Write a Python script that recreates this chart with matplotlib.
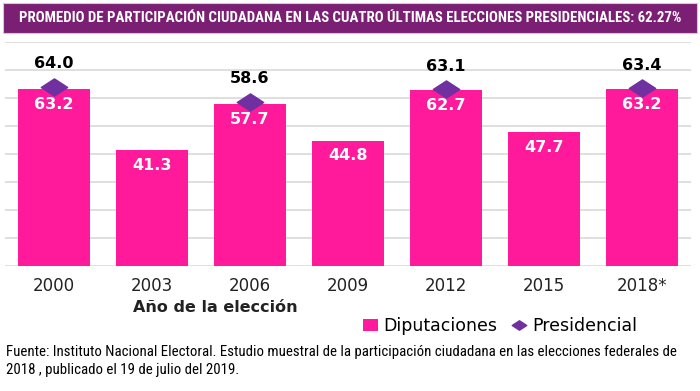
import matplotlib
matplotlib.use("Agg")
import matplotlib.pyplot as plt
from matplotlib.patches import Rectangle
from matplotlib.path import Path
import numpy as np

years = ["2000", "2003", "2006", "2009", "2012", "2015", "2018*"]
diputaciones = [63.2, 41.3, 57.7, 44.8, 62.7, 47.7, 63.2]
presidencial_idx = [0, 2, 4, 6]
presidencial = [64.0, 58.6, 63.1, 63.4]

title = "PROMEDIO DE PARTICIPACIÓN CIUDADANA EN LAS CUATRO ÚLTIMAS ELECCIONES PRESIDENCIALES: 62.27%"
xlabel = "Año de la elección"
source = ("Fuente: Instituto Nacional Electoral. Estudio muestral de la participación ciudadana en las elecciones federales de\n"
          "2018 , publicado el 19 de julio del 2019.")

PINK = "#FF1A9B"
PURPLE = "#7030A0"
NARROW = ["Roboto Condensed", "Arial Narrow", "Liberation Sans Narrow", "DejaVu Sans"]
SANS = ["DejaVu Sans"]

diamond = Path([(-1, 0), (0, 0.65), (1, 0), (0, -0.65), (-1, 0)],
               [Path.MOVETO, Path.LINETO, Path.LINETO, Path.LINETO, Path.CLOSEPOLY])

fig = plt.figure(figsize=(7, 3.91), dpi=100)
fig.patch.set_facecolor("white")

# title band
fig.patches.append(Rectangle((3 / 700, 1 - 33 / 391), 694 / 700, 30 / 391,
                             transform=fig.transFigure, facecolor="#7A1F73",
                             edgecolor="#cccccc", linewidth=0.8, zorder=0))
fig.text(0.5, 1 - 18 / 391, title, ha="center", va="center", color="white",
         fontsize=10.7, fontweight="bold", family=NARROW, fontstretch="condensed")

ax = fig.add_axes([5 / 700, 1 - 266 / 391, 686 / 700, 224 / 391])
x = np.arange(len(years))
bars = ax.bar(x, diputaciones, width=0.73, color=PINK, zorder=2, label="Diputaciones")
px = [x[i] for i in presidencial_idx]
line, = ax.plot(px, presidencial, linestyle="none", marker=diamond, markersize=19,
                color=PURPLE, zorder=3, label="Presidencial")

for xi, v in zip(x, diputaciones):
    ax.annotate(f"{v:.1f}", (xi, v), xytext=(0, -15), textcoords="offset pixels",
                ha="center", va="center", color="white", fontsize=11.5,
                fontweight="bold", family=SANS, zorder=4)
for xi, v in zip(px, presidencial):
    ax.annotate(f"{v:.1f}", (xi, v), xytext=(0, 23), textcoords="offset pixels",
                ha="center", va="center", color="black", fontsize=11.5,
                fontweight="bold", family=SANS, zorder=4)

ax.set_xlim(-0.5, len(years) - 0.5)
ax.set_ylim(0, 80)
ax.set_yticks(np.arange(0, 81, 10))
ax.yaxis.grid(True, color="#d9d9d9", linewidth=1.2, zorder=0)
ax.set_yticklabels([])
ax.tick_params(axis="y", length=0)
ax.tick_params(axis="x", length=0, pad=8, labelsize=12, labelcolor="#222222")
ax.set_xticks(x)
ax.set_xticklabels(years, family=SANS)
for s in ax.spines.values():
    s.set_visible(False)

fig.text(215 / 700, 1 - 307 / 391, xlabel, ha="center", va="center",
         fontsize=11.5, fontweight="bold", family=SANS, color="#222222")

leg = fig.legend([bars, line], ["Diputaciones", "Presidencial"], loc="center",
                 bbox_to_anchor=(500 / 700, 1 - 326 / 391),
                 ncol=2, frameon=False, prop={"family": SANS, "size": 12.5},
                 handlelength=0.9, handletextpad=0.3, columnspacing=0.8,
                 markerscale=0.55)

fig.text(6 / 700, 1 - 361 / 391, source, ha="left", va="center", fontsize=10.7,
         family=NARROW, fontstretch="condensed", color="black", linespacing=1.35)

fig.savefig("out.png", dpi=100)
